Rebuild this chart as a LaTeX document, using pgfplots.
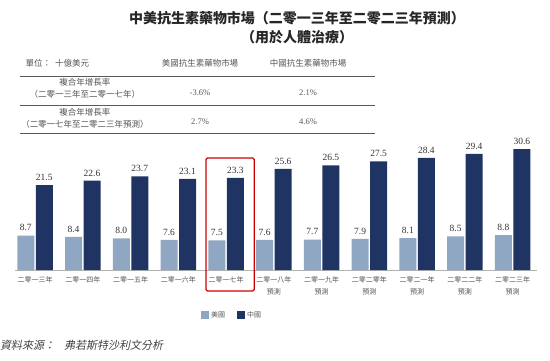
\documentclass[border=0pt]{standalone}
\usepackage{pgfplots}
\pgfplotsset{compat=1.18}
\usepackage{fontspec}
\setmainfont{Liberation Serif}
\newfontfamily\cjk{Noto Sans CJK TC}
\newfontfamily\cjkit{Noto Sans CJK TC}[FakeSlant=0.2]
\definecolor{usblue}{HTML}{8FA7C3}
\definecolor{cnnavy}{HTML}{1F3463}
\definecolor{txtgray}{HTML}{555555}
\begin{document}
\begin{tikzpicture}[x=1pt,y=1pt]
\useasboundingbox (0,0) rectangle (550,360);
% title
\node[font=\cjk\bfseries\fontsize{14}{16}\selectfont, text=black!85] at (297,342) {中美抗生素藥物市場（二零一三年至二零二三年預測）};
\node[font=\cjk\bfseries\fontsize{14}{16}\selectfont, text=black!85] at (297,323) {（用於人體治療）};
% table
\node[anchor=west, font=\cjk\fontsize{8.5}{10}\selectfont, text=txtgray] at (22,297) {單位：\hspace{4pt}十億美元};
\node[font=\cjk\fontsize{8.5}{10}\selectfont, text=txtgray] at (200,297) {美國抗生素藥物市場};
\node[font=\cjk\fontsize{8.5}{10}\selectfont, text=txtgray] at (308,297) {中國抗生素藥物市場};
\draw[black!65, line width=0.8pt] (20,284) -- (375,284);
\draw[black!65, line width=0.8pt] (20,255) -- (375,255);
\draw[black!65, line width=0.8pt] (20,227) -- (375,227);
\node[font=\cjk\fontsize{8.5}{10}\selectfont, text=txtgray] at (85,278) {複合年增長率};
\node[font=\cjk\fontsize{8.5}{10}\selectfont, text=txtgray] at (85,266) {（二零一三年至二零一七年）};
\node[font=\fontsize{8.5}{10}\selectfont, text=txtgray] at (200,267) {-3.6\%};
\node[font=\fontsize{8.5}{10}\selectfont, text=txtgray] at (308,267) {2.1\%};
\node[font=\cjk\fontsize{8.5}{10}\selectfont, text=txtgray] at (85,248) {複合年增長率};
\node[font=\cjk\fontsize{8.5}{10}\selectfont, text=txtgray] at (85,236) {（二零一七年至二零二三年預測）};
\node[font=\fontsize{8.5}{10}\selectfont, text=txtgray] at (200,238) {2.7\%};
\node[font=\fontsize{8.5}{10}\selectfont, text=txtgray] at (308,238) {4.6\%};
% source
\node[anchor=west, font=\cjkit\fontsize{11}{12}\selectfont, text=black!75, inner sep=0pt] at (0,15) {資料來源：\hspace{9pt}弗若斯特沙利文分析};
\begin{axis}[
  at={(15pt,90pt)}, anchor=south west,
  scale only axis, width=522pt, height=126.4pt,
  xmin=-0.419, xmax=10.51, ymin=0, ymax=32,
  ybar=1.5pt, bar width=17pt,
  axis x line*=bottom, axis y line=none,
  x axis line style={black!30, -},
  ytick=\empty,
  xtick={0,...,10},
  xticklabels={二零一三年,二零一四年,二零一五年,二零一六年,二零一七年,{二零一八年\\預測},{二零一九年\\預測},{二零二零年\\預測},{二零二一年\\預測},{二零二二年\\預測},{二零二三年\\預測}},
  xticklabel style={font=\cjk\fontsize{7}{12}\selectfont, align=center, text=txtgray, yshift=-3pt},
  major tick length=0pt,
  clip=false,
  nodes near coords,
  every node near coord/.append style={font=\fontsize{9.5}{10}\selectfont, text=black!80, yshift=1pt},
  /pgf/number format/.cd, fixed, fixed zerofill, precision=1, assume math mode=true,
  /pgfplots/.cd,
  legend columns=2,
  legend style={at={(0.416,-0.355)}, anchor=center, draw=none, fill=none, font=\cjk\fontsize{7}{8}\selectfont, text=txtgray, /tikz/every even column/.append style={column sep=10pt}},
  legend image code/.code={\fill[#1, draw=none] (0pt,-4pt) rectangle (8pt,4pt);},
]
\addplot[fill=usblue, draw=none] coordinates {(0,8.7) (1,8.4) (2,8.0) (3,7.6) (4,7.5) (5,7.6) (6,7.7) (7,7.9) (8,8.1) (9,8.5) (10,8.8)};
\addplot[fill=cnnavy, draw=none] coordinates {(0,21.5) (1,22.6) (2,23.7) (3,23.1) (4,23.3) (5,25.6) (6,26.5) (7,27.5) (8,28.4) (9,29.4) (10,30.6)};
\legend{美國,中國}
\draw[color=red!80!black, line width=1.3pt, rounded corners=1.5pt] (axis cs:3.58,-5.3) rectangle (axis cs:4.59,28.35);
\end{axis}
\end{tikzpicture}
\end{document}
